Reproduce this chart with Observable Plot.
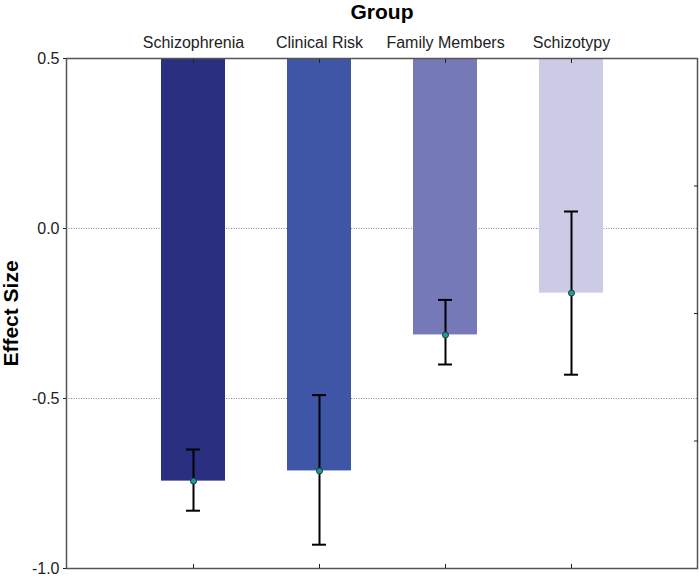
<!DOCTYPE html>
<html>
<head>
<meta charset="utf-8">
<script src="https://cdn.jsdelivr.net/npm/d3@7"></script>
<script src="https://cdn.jsdelivr.net/npm/@observablehq/plot@0.6"></script>
<style>
  html, body { margin: 0; padding: 0; background: #fff; }
  #chart { width: 700px; height: 579px; }
  svg { font-family: "Liberation Sans", Arial, sans-serif; }
</style>
</head>
<body>
<div id="chart"></div>
<script>
const groups = ["Schizophrenia", "Clinical Risk", "Family Members", "Schizotypy"];
const effect = [-0.743, -0.713, -0.313, -0.19];
const lower  = [-0.83, -0.93, -0.40, -0.43];
const upper  = [-0.65, -0.49, -0.21, 0.05];
const colors = ["#2b2f80", "#3f56a6", "#7679b8", "#cccbe6"];
const yTicks = [-1.0, -0.5, 0.0, 0.5];
const gridTicks = [0.0, -0.5];
const rightTicks = [0.125, -0.25, -0.625];
const yTop = 0.5;

const data = groups.map((g, i) => ({group: g, value: effect[i], lo: lower[i], hi: upper[i], color: colors[i], top: yTop}));

const chart = Plot.plot({
  width: 700,
  height: 579,
  marginLeft: 66,
  marginRight: 3,
  marginTop: 58,
  marginBottom: 11,
  style: {fontFamily: "Liberation Sans, Arial, sans-serif", fontSize: "16px", color: "#222", background: "#fff"},
  x: {domain: groups, paddingInner: 0.493, paddingOuter: 0.746},
  y: {domain: [-1, 0.5]},
  color: {type: "identity"},
  marks: [
    Plot.gridY(gridTicks, {stroke: "#8a8a8a", strokeOpacity: 1, strokeDasharray: "1,1.5", strokeWidth: 1}),
    Plot.barY(data, {x: "group", y1: "value", y2: "top", fill: "color"}),
    Plot.ruleX(data, {x: "group", y1: "lo", y2: "hi", stroke: "#000", strokeWidth: 2}),
    Plot.tickY(data, {x: "group", y: "lo", stroke: "#000", strokeWidth: 2, insetLeft: 25, insetRight: 25}),
    Plot.tickY(data, {x: "group", y: "hi", stroke: "#000", strokeWidth: 2, insetLeft: 25, insetRight: 25}),
    Plot.dot(data, {x: "group", y: "value", r: 3, fill: "#1f9c9a", stroke: "#1a3a3a", strokeWidth: 1}),
    Plot.frame({stroke: "#555", strokeWidth: 1.5}),
    Plot.axisY({anchor: "left", ticks: yTicks, tickSize: 3, tickFormat: d => d.toFixed(1), fontSize: 16, tickPadding: 4,
      label: "Effect Size", labelAnchor: "center", labelArrow: "none", labelOffset: 63}),
    Plot.axisY({anchor: "right", ticks: rightTicks, tickSize: -4, tickFormat: () => "", label: null}),
    Plot.axisX({anchor: "top", tickSize: -4, tickPadding: 15, fontSize: 16,
      label: "Group", labelAnchor: "center", labelArrow: "none", labelOffset: 54}),
    Plot.axisX({anchor: "bottom", tickSize: -4, tickFormat: () => "", label: null})
  ]
});

// style axis titles
chart.querySelectorAll("[aria-label='y-axis label'] text, [aria-label='x-axis label'] text").forEach(t => {
  t.setAttribute("font-weight", "bold");
  t.setAttribute("font-size", "21");
  t.setAttribute("fill", "#000");
});
document.getElementById("chart").appendChild(chart);
</script>
</body>
</html>
